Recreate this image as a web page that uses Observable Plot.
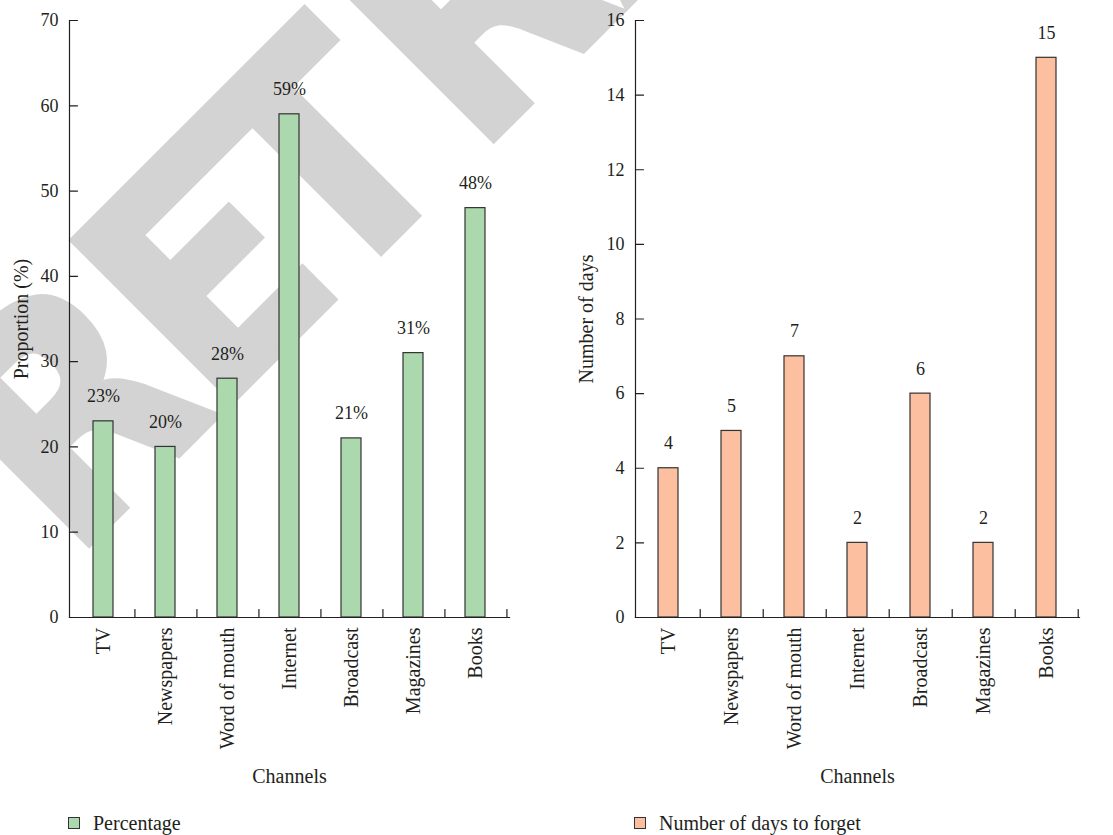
<!DOCTYPE html>
<html><head><meta charset="utf-8">
<script src="https://cdn.jsdelivr.net/npm/d3@7"></script>
<script src="https://cdn.jsdelivr.net/npm/@observablehq/plot@0.6"></script>
<style>
body{margin:0;background:#fff;width:1113px;height:835px;overflow:hidden;position:relative;font-family:"Liberation Serif",serif;color:#231f20;}
#wm{position:absolute;left:0;top:0;z-index:0}
#row{position:absolute;left:0;top:0;display:flex;z-index:1}
.legend{display:flex;align-items:center;height:36px;margin-top:5px;font-size:20px}
.swatch{width:12px;height:12px;border:1px solid #333;box-sizing:border-box;margin-right:13px}
</style></head>
<body>
<svg id="wm" width="1113" height="835"><text transform="translate(71,562) rotate(-45) scale(0.89,1)" dx="0 -10.1 -24.7 15.7" font-family="DejaVu Sans, sans-serif" font-weight="bold" font-size="310" fill="#d3d3d3" stroke="#d3d3d3" stroke-width="7">RETRACTED</text></svg>
<div id="row"><div id="p1"></div><div id="p2"></div></div>
<script>
const channels = ["TV", "Newspapers", "Word of mouth", "Internet", "Broadcast", "Magazines", "Books"];
const percentage = [23, 20, 28, 59, 21, 31, 48];
const daysToForget = [4, 5, 7, 2, 6, 2, 15];
const percentTicks = [0, 10, 20, 30, 40, 50, 60, 70];
const dayTicks = [0, 2, 4, 6, 8, 10, 12, 14, 16];

const INK = "#231f20";
const FONT = "'Liberation Serif', 'Times New Roman', serif";
const tickShape = {draw(context, l) { context.moveTo(0, 0); context.lineTo(0, -l); }};

function panel({width, marginLeft, marginRight, values, yTicks, fill, fmt, yLabel, yLabelDx, legendText}) {
  const data = channels.map((c, i) => ({channel: c, value: values[i]}));
  const step = (width - marginLeft - marginRight) / channels.length;
  const chart = Plot.plot({
    width, height: 800, marginLeft, marginRight, marginTop: 20, marginBottom: 183,
    style: {background: "transparent", fontFamily: FONT, overflow: "visible", color: INK},
    x: {domain: channels, paddingInner: 0.68, paddingOuter: 0.34, label: null},
    y: {domain: [yTicks[0], yTicks[yTicks.length - 1]], label: null},
    marks: [
      Plot.barY(data, {x: "channel", y: "value", fill, stroke: "#333", strokeWidth: 1.2}),
      Plot.text(data, {x: "channel", y: "value", text: d => fmt(d.value), lineAnchor: "bottom", dy: -19, fontSize: 18, fill: INK}),
      Plot.frame({anchor: "left", stroke: INK, strokeWidth: 1.2}),
      Plot.frame({anchor: "bottom", stroke: INK, strokeWidth: 1.2}),
      Plot.axisY(yTicks, {tickSize: 0, tickPadding: 11, fontSize: 18, label: null, fill: INK}),
      Plot.vector(yTicks, {y: d => d, frameAnchor: "left", rotate: 90, length: 8, anchor: "start", shape: tickShape, stroke: INK, strokeWidth: 1.2}),
      Plot.axisX({tickSize: 0, tickPadding: 10, tickRotate: -90, fontSize: 20, label: null, fill: INK}),
      Plot.vector(channels, {x: d => d, frameAnchor: "bottom", length: 8, anchor: "start", shape: tickShape, dx: step / 2, stroke: INK, strokeWidth: 1.2}),
      Plot.text(["Channels"], {frameAnchor: "bottom", dy: 165, lineAnchor: "bottom", fontSize: 20, fill: INK}),
      Plot.text([yLabel], {frameAnchor: "left", textAnchor: "middle", rotate: -90, dx: yLabelDx, fontSize: 20, fill: INK})
    ]
  });
  const wrap = document.createElement("div");
  wrap.style.width = width + "px";
  wrap.appendChild(chart);
  const leg = document.createElement("div");
  leg.className = "legend";
  leg.style.paddingLeft = (marginLeft - 1) + "px";
  leg.innerHTML = `<span class="swatch" style="background:${fill}"></span><span>${legendText}</span>`;
  wrap.appendChild(leg);
  return wrap;
}

document.getElementById("p1").appendChild(panel({
  width: 556, marginLeft: 69, marginRight: 47, values: percentage, yTicks: percentTicks,
  fill: "#acd8ae", fmt: v => v + "%", yLabel: "Proportion (%)", yLabelDx: -48, legendText: "Percentage"
}));
document.getElementById("p2").appendChild(panel({
  width: 557, marginLeft: 79, marginRight: 34, values: daysToForget, yTicks: dayTicks,
  fill: "#fcbf9f", fmt: v => String(v), yLabel: "Number of days", yLabelDx: -49, legendText: "Number of days to forget"
}));
</script>
</body></html>
